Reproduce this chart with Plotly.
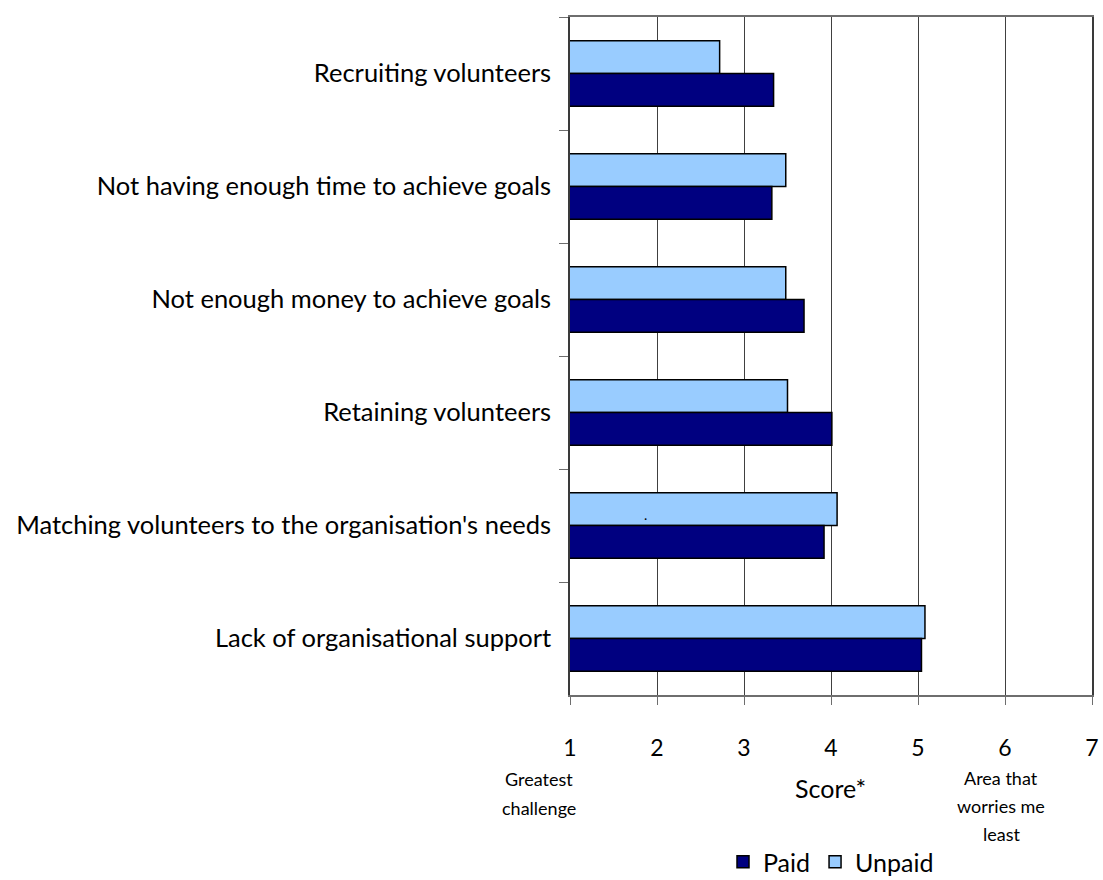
import plotly.graph_objects as go

categories = [
    "Recruiting volunteers",
    "Not having enough time to achieve goals",
    "Not enough money to achieve goals",
    "Retaining volunteers",
    "Matching volunteers to the organisation's needs",
    "Lack of organisational support",
]
paid = [3.34, 3.32, 3.69, 4.01, 3.92, 5.04]
unpaid = [2.72, 3.48, 3.48, 3.50, 4.07, 5.08]
x_ticks = [1, 2, 3, 4, 5, 6, 7]

FONT = "Lato"

fig = go.Figure()
fig.add_trace(go.Bar(
    y=categories, x=unpaid, orientation="h", name="Unpaid",
    marker=dict(color="#99CCFF", line=dict(color="#000000", width=1.5)),
    legendrank=2,
))
fig.add_trace(go.Bar(
    y=categories, x=paid, orientation="h", name="Paid",
    marker=dict(color="#000080", line=dict(color="#000000", width=1.5)),
    legendrank=1,
))

fig.update_layout(
    width=1103, height=880,
    margin=dict(l=570, r=11, t=17, b=185, autoexpand=False),
    plot_bgcolor="white", paper_bgcolor="white",
    barmode="group", bargap=0.42, bargroupgap=0,
    font=dict(family=FONT, color="#000000"),
    showlegend=True,
    legend=dict(orientation="h", x=831 / 1103, xref="container", xanchor="center",
                y=(880 - 862) / 880, yref="container", yanchor="middle",
                font=dict(size=25, family=FONT), itemwidth=30, tracegroupgap=0),
)
fig.update_xaxes(
    range=[1, 7], tickvals=x_ticks, ticktext=[str(v) for v in x_ticks],
    showgrid=True, gridcolor="#404040", gridwidth=1,
    showline=True, linecolor="#6e6e6e", linewidth=1.5, mirror=True,
    ticks="outside", ticklen=8, tickcolor="#6e6e6e",
    tickfont=dict(size=23, family=FONT), ticklabelstandoff=24,
    zeroline=False, automargin=False,
)
fig.update_yaxes(
    categoryorder="array", categoryarray=categories, autorange="reversed",
    showline=True, linecolor="#3a3a3a", linewidth=1.5, mirror=True,
    ticks="outside", ticklen=9, tickcolor="#6e6e6e", tickson="boundaries",
    tickfont=dict(size=25.5, family=FONT), ticklabelstandoff=12,
    showgrid=False, automargin=False,
)

def ann(text, x, y, size):
    fig.add_annotation(text=text, xref="paper", yref="paper", x=x, y=y,
                       xanchor="center", yanchor="middle", showarrow=False,
                       font=dict(size=size, family=FONT, color="#000000"))

ann("Greatest", (539 - 570) / 522, (695 - 779) / 678, 18)
ann("challenge", (539 - 570) / 522, (695 - 808) / 678, 18)
ann("Score*", (830 - 570) / 522, (695 - 788) / 678, 25)
ann("Area that", (1001 - 570) / 522, (695 - 778) / 678, 18)
ann("worries me", (1001 - 570) / 522, (695 - 806) / 678, 18)
ann("least", (1001 - 570) / 522, (695 - 834) / 678, 18)
# stray dot present in the original chart
ann(".", (645 - 570) / 522, (695 - 514) / 678, 14)

fig.write_html("out.html")
